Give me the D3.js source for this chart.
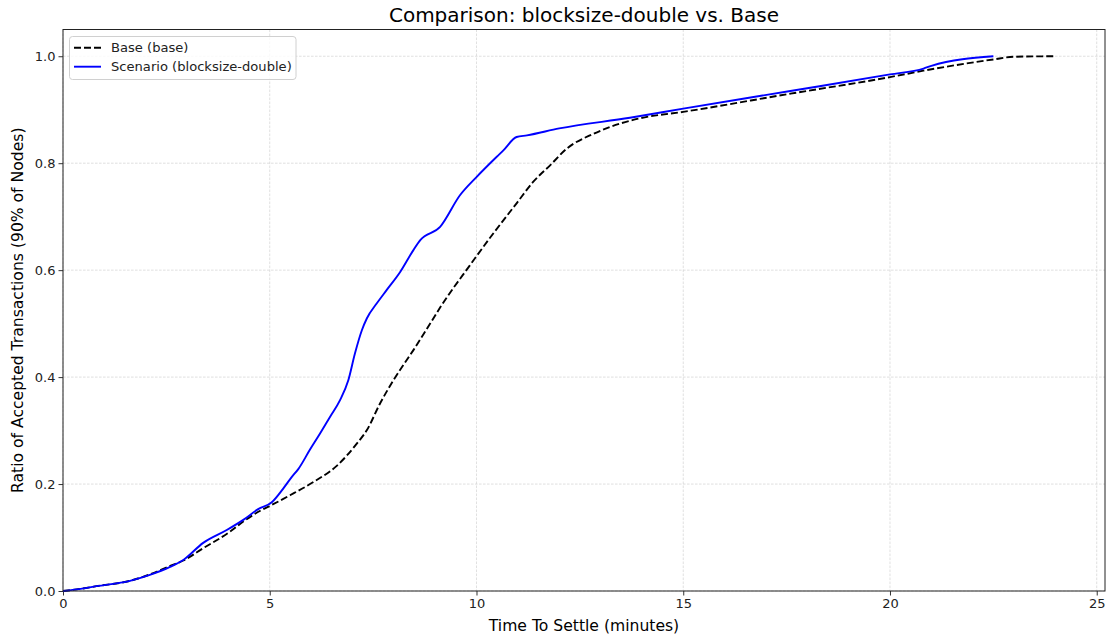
<!DOCTYPE html>
<html>
<head>
<meta charset="utf-8">
<script src="https://cdn.jsdelivr.net/npm/d3@7"></script>
<style>
  html, body { margin: 0; padding: 0; background: #fff; }
  svg { display: block; font-family: "DejaVu Sans", sans-serif; }
</style>
</head>
<body>
<svg id="chart" width="1110" height="639"></svg>
<script>
// Cumulative share of accepted transactions vs. time to settle (minutes)
const baseTime = [0, 0.33, 0.81, 1.62, 2.1, 2.59, 2.91, 3.39, 4.04, 4.36, 4.77, 5.05, 5.49, 6.06, 6.62, 7.10, 7.35, 7.67, 7.99, 8.47, 8.88, 9.12, 9.84, 10.41, 10.97, 11.37, 11.78, 12.18, 12.83, 13.47, 13.96, 15.0, 17.59, 20.0, 20.81, 22.5, 22.98, 24.0];
const baseRatio = [0, 0.003, 0.009, 0.019, 0.031, 0.047, 0.057, 0.080, 0.111, 0.130, 0.150, 0.161, 0.179, 0.204, 0.234, 0.275, 0.301, 0.351, 0.394, 0.450, 0.500, 0.530, 0.609, 0.669, 0.725, 0.765, 0.796, 0.827, 0.855, 0.874, 0.884, 0.896, 0.930, 0.961, 0.973, 0.994, 0.999, 1.0];

const scenTime = [0, 0.33, 0.81, 1.62, 2.1, 2.59, 2.91, 3.39, 3.96, 4.36, 4.72, 5.05, 5.33, 5.53, 5.69, 5.97, 6.22, 6.46, 6.70, 6.90, 7.06, 7.23, 7.35, 7.59, 7.83, 8.15, 8.47, 8.64, 9.12, 9.60, 10.0, 10.49, 10.65, 10.97, 11.22, 12.0, 13.71, 15.0, 17.59, 20.0, 20.81, 21.0, 22.5];
const scenRatio = [0, 0.003, 0.009, 0.019, 0.030, 0.045, 0.058, 0.090, 0.114, 0.133, 0.153, 0.166, 0.192, 0.213, 0.228, 0.264, 0.295, 0.326, 0.357, 0.394, 0.444, 0.488, 0.510, 0.538, 0.563, 0.596, 0.637, 0.656, 0.681, 0.740, 0.774, 0.812, 0.824, 0.849, 0.852, 0.865, 0.885, 0.902, 0.935, 0.966, 0.977, 0.982, 1.0];

const xTicks = [0, 5, 10, 15, 20, 25];
const yTicks = [0.0, 0.2, 0.4, 0.6, 0.8, 1.0];

const seriesNames = ["Base (base)", "Scenario (blocksize-double)"];
const titleText = "Comparison: blocksize-double vs. Base";
const xLabel = "Time To Settle (minutes)";
const yLabel = "Ratio of Accepted Transactions (90% of Nodes)";

const svg = d3.select("#chart");
const plot = { left: 63, right: 1105, top: 29.5, bottom: 591 };

const x = d3.scaleLinear().domain([0, 25.2]).range([plot.left, plot.right]);
const y = d3.scaleLinear().domain([0, 1.05]).range([plot.bottom, plot.top]);

// grid
const grid = svg.append("g");
grid.selectAll("line.gx").data(xTicks).join("line")
  .attr("x1", d => x(d)).attr("x2", d => x(d))
  .attr("y1", plot.top).attr("y2", plot.bottom)
  .attr("stroke", "#d2d2d2").attr("stroke-width", 0.7).attr("stroke-dasharray", "2.6,1.4");
grid.selectAll("line.gy").data(yTicks).join("line")
  .attr("x1", plot.left).attr("x2", plot.right)
  .attr("y1", d => y(d)).attr("y2", d => y(d))
  .attr("stroke", "#d2d2d2").attr("stroke-width", 0.7).attr("stroke-dasharray", "2.6,1.4");

// axes
const xAxis = d3.axisBottom(x).tickValues(xTicks).tickFormat(d3.format("d")).tickSize(4.5).tickPadding(3);
const yAxis = d3.axisLeft(y).tickValues(yTicks).tickFormat(d3.format(".1f")).tickSize(4.5).tickPadding(3);

const gx = svg.append("g").attr("transform", `translate(0,${plot.bottom})`).call(xAxis);
const gy = svg.append("g").attr("transform", `translate(${plot.left},0)`).call(yAxis);
[gx, gy].forEach(g => {
  g.select(".domain").remove();
  g.selectAll("text").attr("font-size", 13).attr("fill", "#222").attr("font-family", "DejaVu Sans");
  g.selectAll("line").attr("stroke", "#333");
});

// lines
const lineGen = d3.line().x(d => x(d[0])).y(d => y(d[1])).curve(d3.curveMonotoneX);
const basePts = d3.zip(baseTime, baseRatio);
const scenPts = d3.zip(scenTime, scenRatio);

svg.append("path").datum(basePts).attr("d", lineGen)
  .attr("fill", "none").attr("stroke", "#000").attr("stroke-width", 1.9)
  .attr("stroke-dasharray", "7,3");
svg.append("path").datum(scenPts).attr("d", lineGen)
  .attr("fill", "none").attr("stroke", "#0000ff").attr("stroke-width", 1.9);

// frame
svg.append("rect")
  .attr("x", plot.left).attr("y", plot.top)
  .attr("width", plot.right - plot.left).attr("height", plot.bottom - plot.top)
  .attr("fill", "none").attr("stroke", "#222").attr("stroke-width", 1);

// legend
const leg = svg.append("g");
leg.append("rect").attr("x", 69.5).attr("y", 36.5).attr("width", 226.5).attr("height", 43)
  .attr("rx", 3).attr("fill", "#fff").attr("fill-opacity", 0.8)
  .attr("stroke", "#d0d0d0").attr("stroke-width", 1);
const legItems = [
  { name: seriesNames[0], color: "#000", dash: "7,3" },
  { name: seriesNames[1], color: "#0000ff", dash: null }
];
legItems.forEach((it, i) => {
  const cy = 47.7 + i * 19;
  leg.append("line").attr("x1", 74).attr("x2", 101).attr("y1", cy).attr("y2", cy)
    .attr("stroke", it.color).attr("stroke-width", 1.9)
    .attr("stroke-dasharray", it.dash);
  leg.append("text").attr("x", 111).attr("y", cy).attr("dy", "0.35em")
    .attr("font-size", 13.1).attr("fill", "#222").text(it.name);
});

// titles
svg.append("text").attr("x", (plot.left + plot.right) / 2).attr("y", 22)
  .attr("text-anchor", "middle").attr("font-size", 20).attr("fill", "#000").text(titleText);
svg.append("text").attr("x", (plot.left + plot.right) / 2).attr("y", 631)
  .attr("text-anchor", "middle").attr("font-size", 15.6).attr("fill", "#000").text(xLabel);
svg.append("text")
  .attr("transform", `translate(23,${(plot.top + plot.bottom) / 2}) rotate(-90)`)
  .attr("text-anchor", "middle").attr("font-size", 15.6).attr("fill", "#000").text(yLabel);
</script>
</body>
</html>
